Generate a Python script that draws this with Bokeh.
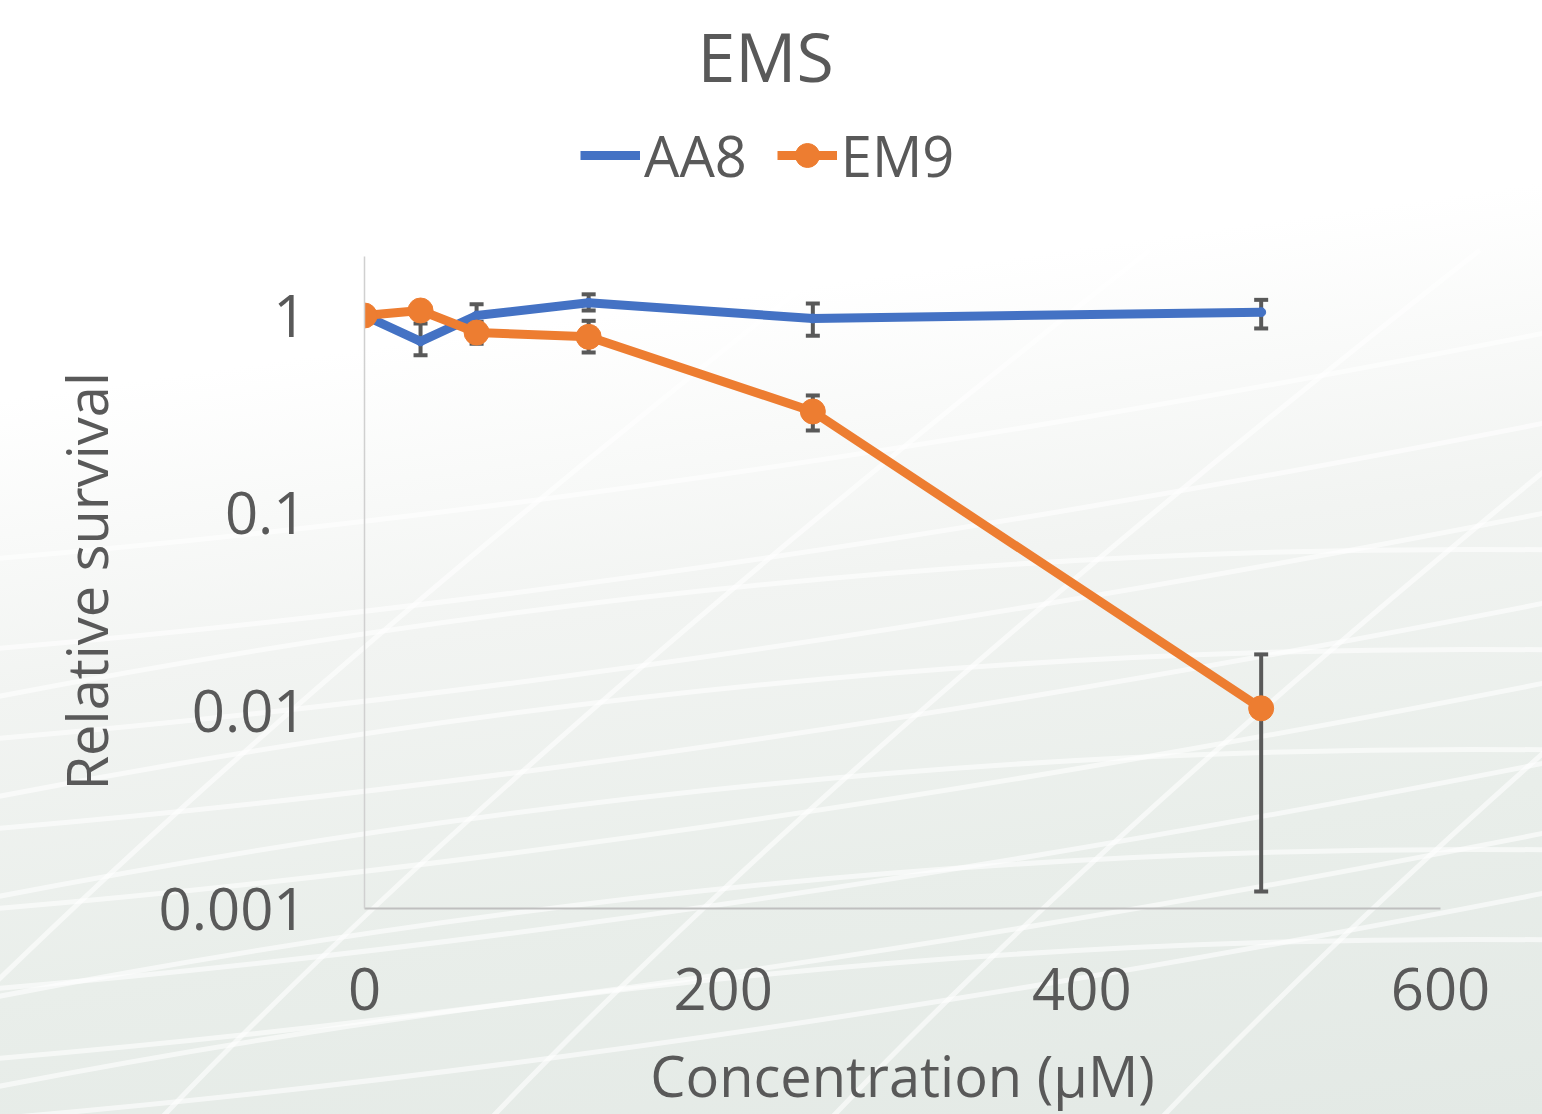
from urllib.parse import quote
from bokeh.plotting import figure
from bokeh.models import (ColumnDataSource, Whisker, TeeHead, Legend, LegendItem, Title,
                          FixedTicker, CustomJSTickFormatter, Range1d, InlineStyleSheet)
from bokeh.embed import file_html
from bokeh.resources import INLINE

# ---- data ----
conc = [0, 31.25, 62.5, 125, 250, 500]
aa8 = [1.0, 0.74, 1.0, 1.16, 0.966, 1.04]
aa8_lo = [1.0, 0.63, 0.88, 1.06, 0.79, 0.86]
aa8_hi = [1.0, 0.91, 1.14, 1.28, 1.15, 1.20]
em9 = [1.0, 1.06, 0.82, 0.78, 0.327, 0.0103]
em9_lo = [1.0, 1.06, 0.72, 0.65, 0.262, 0.00122]
em9_hi = [1.0, 1.06, 0.93, 0.94, 0.394, 0.0193]
y_ticks = [0.001, 0.01, 0.1, 1]
y_axis_bounds = (0.001, 2)
x_ticks = [0, 200, 400, 600]

TXT = "#595959"
FONT = "Open Sans"
BLUE = "#4472C4"
ORANGE = "#ED7D31"

# decorative page background (white sweeping curves over a soft grey-green gradient)
paths = []
for y0 in [560, 650, 740, 830, 910, 990, 1060, 1120]:
    paths.append(f"M-20,{y0} Q700,{y0-60} 1560,{y0-230}")
for y0 in [700, 800, 900, 1000, 1090]:
    paths.append(f"M-20,{y0} Q800,{y0-160} 1560,{y0-150}")
for x0 in [-150, 150, 480, 820, 1150]:
    paths.append(f"M{x0},1130 Q{x0+350},760 {x0+1000},250")
svg = ("<svg xmlns='http://www.w3.org/2000/svg' width='1542' height='1114'>"
       + "".join(f"<path d='{d}' fill='none' stroke='white' stroke-width='5' stroke-opacity='0.6'/>" for d in paths)
       + "</svg>")
bg = InlineStyleSheet(css=(":host { background: url(\"data:image/svg+xml;utf8," + quote(svg) + "\") no-repeat, "
                           "linear-gradient(172deg, #ffffff 0%, #ffffff 30%, #f2f4f2 52%, #e9eeea 75%, #e3e9e5 100%); }"))

# frame extends up to the legend row; the y axis line is bounded to 0.001..2
p = figure(frame_width=1076, frame_height=800, y_axis_type="log", output_backend="svg",
           toolbar_location=None, x_range=Range1d(0, 600), y_range=Range1d(0.001, 11.15),
           min_border_left=364, min_border_right=102, min_border_top=108, min_border_bottom=206,
           stylesheets=[bg])
p.border_fill_alpha = 0
p.background_fill_alpha = 0
p.outline_line_color = None
p.grid.visible = False

p.title.text = "EMS"
p.title.align = "left"
p.title.offset = 333
p.title.text_font = FONT
p.title.text_font_size = "68px"
p.title.text_font_style = "normal"
p.title.text_color = TXT
p.title.standoff = 13

for ax in [p.xaxis[0], p.yaxis[0]]:
    ax.major_tick_line_color = None
    ax.minor_tick_line_color = None
    ax.major_label_text_font = FONT
    ax.major_label_text_font_size = "58px"
    ax.major_label_text_color = TXT
    ax.axis_label_text_font = FONT
    ax.axis_label_text_font_size = "56px"
    ax.axis_label_text_font_style = "normal"
    ax.axis_label_text_color = TXT

p.xaxis.ticker = FixedTicker(ticks=x_ticks)
p.yaxis.ticker = FixedTicker(ticks=y_ticks, minor_ticks=[])
p.yaxis.bounds = y_axis_bounds
p.yaxis.formatter = CustomJSTickFormatter(code="return tick.toString();")
p.xaxis.axis_label = "Concentration (\u03bcM)"
p.xaxis.axis_line_color = "#BFBFBF"
p.yaxis.axis_line_color = "#D0D0D0"
p.xaxis.axis_line_width = 2
p.yaxis.axis_line_width = 1.5
p.xaxis.major_label_standoff = 53
p.yaxis.major_label_standoff = 52
p.xaxis.axis_label_standoff = 24

# y axis title, aligned to the 0.001..2 span of the axis
ytitle = Title(text="Relative survival", align="left", offset=118, standoff=64,
               text_font=FONT, text_font_size="56px", text_font_style="normal",
               text_color=TXT)
p.add_layout(ytitle, "left")

src_a = ColumnDataSource(dict(x=conc, y=aa8, lo=aa8_lo, hi=aa8_hi))
src_e = ColumnDataSource(dict(x=conc, y=em9, lo=em9_lo, hi=em9_hi))

for src in (src_a, src_e):
    w = Whisker(source=src, base="x", lower="lo", upper="hi",
                line_color="#595959", line_width=4,
                lower_head=TeeHead(size=14, line_color="#595959", line_width=4),
                upper_head=TeeHead(size=14, line_color="#595959", line_width=4))
    p.add_layout(w)

la = p.line("x", "y", source=src_a, line_color=BLUE, line_width=9, line_join="round")
ma = p.scatter("x", "y", source=src_a, size=9, fill_color=BLUE, line_color=BLUE)
le = p.line("x", "y", source=src_e, line_color=ORANGE, line_width=9, line_join="round")
me = p.scatter("x", "y", source=src_e, size=25, fill_color=ORANGE, line_color=ORANGE)

legend = Legend(items=[LegendItem(label="AA8", renderers=[la]),
                       LegendItem(label="EM9", renderers=[le, me])],
                orientation="horizontal", location=(216, 715),
                label_text_font=FONT, label_text_font_size="56px", label_text_color=TXT,
                glyph_width=60, glyph_height=60, label_standoff=4, spacing=30,
                background_fill_alpha=0, border_line_color=None,
                margin=0, padding=0)
p.add_layout(legend, "center")

open("out.html", "w").write(file_html(p, INLINE))
